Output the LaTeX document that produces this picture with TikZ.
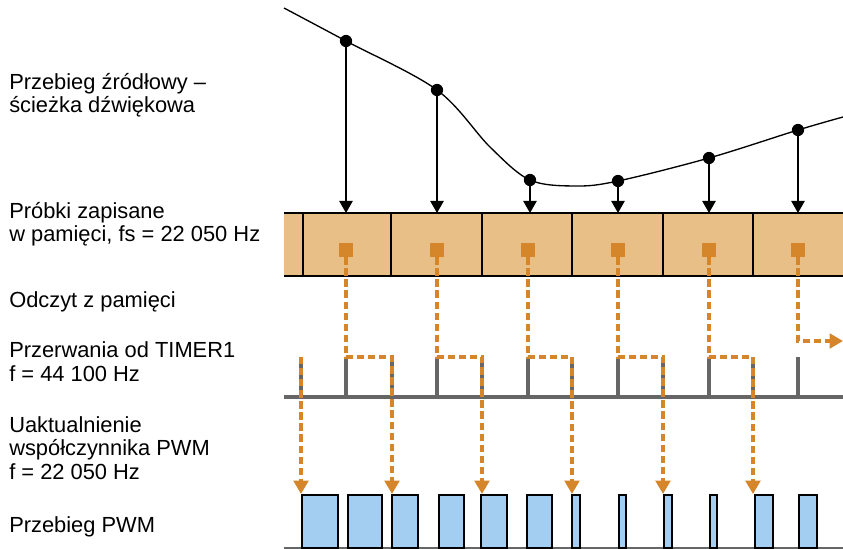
\documentclass[tikz,border=0pt]{standalone}
\usepackage{fontspec}
\setmainfont{Liberation Sans}
\usetikzlibrary{arrows.meta}

\definecolor{cellTan}{HTML}{E8BF87}
\definecolor{readOrange}{HTML}{D5862A}
\definecolor{pulseBlue}{HTML}{A4CEF1}
\definecolor{tickGray}{HTML}{666666}

\begin{document}
\begin{tikzpicture}[x=0.75pt, y=-0.75pt, % work in pixels, y downwards
    rowtext/.style={anchor=base west, align=left, inner sep=0pt, font=\fontsize{16.4}{17.4}\selectfont},
    dot/.style={circle, fill=black, inner sep=0pt, minimum size=9.2pt},
    sample/.style={line width=1pt, -{Triangle[width=10pt, length=9pt]}},
    word/.style={fill=readOrange, inner sep=0pt, minimum size=10.5pt},
    read/.style={readOrange, line width=2.3pt, dash pattern=on 5.5pt off 2.8pt, -{Triangle[width=11pt, length=10pt]}},
    tick/.style={tickGray, line width=2.6pt},
    pulse/.style={draw=black, fill=pulseBlue, line width=1.1pt}]

    \useasboundingbox (0,0) rectangle (843,549);

    % Row labels (placed at the baseline of their last line)
    \node[rowtext] (src) at (9,113) {Przebieg źródłowy –\\ścieżka dźwiękowa};
    \node[rowtext] (mem) at (9,242) {Próbki zapisane\\w pamięci, fs = 22 050 Hz};
    \node[rowtext] (rd) at (9,307) {Odczyt z pamięci};
    \node[rowtext] (irq) at (9,381) {Przerwania od TIMER1\\f = 44 100 Hz};
    \node[rowtext] (upd) at (9,479) {Uaktualnienie\\współczynnika PWM\\f = 22 050 Hz};
    \node[rowtext] (pwm) at (9,532) {Przebieg PWM};

    % Source waveform
    \draw[line width=1pt] plot[smooth, tension=0.55] coordinates {(284,8) (346,41) (437,90) (490,147) (530,180) (576,186) (618,181) (709,158) (798,130) (843,117)};
    \node[dot] (s1) at (346,41) {};
    \node[dot] (s2) at (437,90) {};
    \node[dot] (s3) at (530,180) {};
    \node[dot] (s4) at (618,181) {};
    \node[dot] (s5) at (709,158) {};
    \node[dot] (s6) at (798,130) {};

    % Memory strip
    \coordinate (memtop) at (0,213);
    \fill[cellTan] (284,213) rectangle (843,276);
    \draw[line width=1.1pt] (284,213) -- (843,213);
    \draw[line width=1.4pt] (284,276) -- (843,276);
    \draw[line width=1pt] (303,213) -- (303,276);
    \draw[line width=1pt] (391,213) -- (391,276);
    \draw[line width=1pt] (482,213) -- (482,276);
    \draw[line width=1pt] (572,213) -- (572,276);
    \draw[line width=1pt] (663,213) -- (663,276);
    \draw[line width=1pt] (753,213) -- (753,276);

    % Stored samples
    \node[word] (q1) at (346,250) {};
    \node[word] (q2) at (437,250) {};
    \node[word] (q3) at (528,250) {};
    \node[word] (q4) at (618,250) {};
    \node[word] (q5) at (709,250) {};
    \node[word] (q6) at (798,250) {};

    % Sampling arrows
    \draw[sample] (s1) -- (s1 |- memtop);
    \draw[sample] (s2) -- (s2 |- memtop);
    \draw[sample] (s3) -- (s3 |- memtop);
    \draw[sample] (s4) -- (s4 |- memtop);
    \draw[sample] (s5) -- (s5 |- memtop);
    \draw[sample] (s6) -- (s6 |- memtop);

    % TIMER1 interrupts
    \coordinate (base) at (0,397);
    \coordinate (k0) at (301,357);
    \coordinate (k1) at (346,357);
    \coordinate (k2) at (392,357);
    \coordinate (k3) at (437,357);
    \coordinate (k4) at (482,357);
    \coordinate (k5) at (528,357);
    \coordinate (k6) at (572,357);
    \coordinate (k7) at (618,357);
    \coordinate (k8) at (663,357);
    \coordinate (k9) at (709,357);
    \coordinate (k10) at (753,357);
    \coordinate (k11) at (798,357);
    \draw[tickGray, line width=3pt] (284,397) -- (843,397);
    \draw[tick] (k0) -- (k0 |- base);
    \draw[tick] (k1) -- (k1 |- base);
    \draw[tick] (k2) -- (k2 |- base);
    \draw[tick] (k3) -- (k3 |- base);
    \draw[tick] (k4) -- (k4 |- base);
    \draw[tick] (k5) -- (k5 |- base);
    \draw[tick] (k6) -- (k6 |- base);
    \draw[tick] (k7) -- (k7 |- base);
    \draw[tick] (k8) -- (k8 |- base);
    \draw[tick] (k9) -- (k9 |- base);
    \draw[tick] (k10) -- (k10 |- base);
    \draw[tick] (k11) -- (k11 |- base);

    % PWM waveform
    \coordinate (pwmtop) at (0,494);
    \draw[tickGray, line width=1pt] (284,548) -- (843,548);
    \draw[pulse] (302,495) rectangle (338,548);
    \draw[pulse] (348,495) rectangle (382,548);
    \draw[pulse] (392,495) rectangle (418,548);
    \draw[pulse] (439,495) rectangle (464,548);
    \draw[pulse] (481,495) rectangle (507,548);
    \draw[pulse] (527,495) rectangle (552,548);
    \draw[pulse] (572,495) rectangle (580,548);
    \draw[pulse] (619,495) rectangle (626,548);
    \draw[pulse] (664,495) rectangle (672,548);
    \draw[pulse] (710,495) rectangle (717,548);
    \draw[pulse] (755,495) rectangle (773,548);
    \draw[pulse] (799,495) rectangle (817,548);

    % Reading from memory and duty cycle updates
    \coordinate (exit) at (843,341);
    \draw[read] (k0) -- (k0 |- pwmtop);
    \draw[read] (q1.south) -- (k1) -- (k2) -- (k2 |- pwmtop);
    \draw[read] (q2.south) -- (k3) -- (k4) -- (k4 |- pwmtop);
    \draw[read] (q3.south) -- (k5) -- (k6) -- (k6 |- pwmtop);
    \draw[read] (q4.south) -- (k7) -- (k8) -- (k8 |- pwmtop);
    \draw[read] (q5.south) -- (k9) -- (k10) -- (k10 |- pwmtop);
    \draw[read] (q6.south) |- (exit);
\end{tikzpicture}
\end{document}
